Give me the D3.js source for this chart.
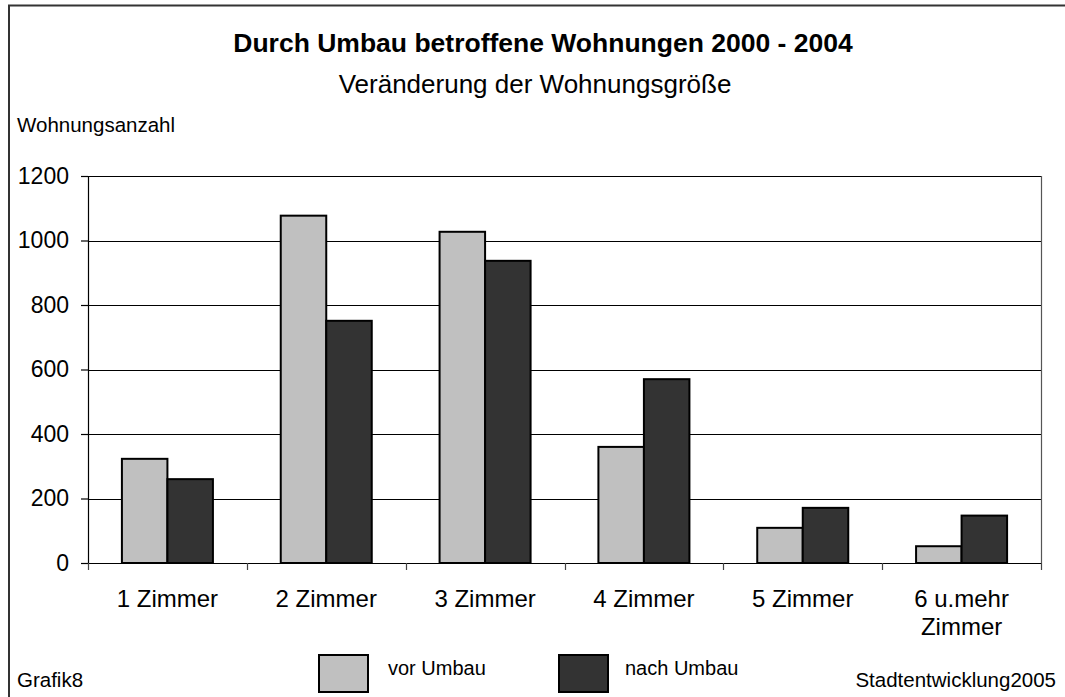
<!DOCTYPE html>
<html>
<head>
<meta charset="utf-8">
<script src="https://cdn.jsdelivr.net/npm/d3@7"></script>
<style>
  body { margin: 0; background: #fff; }
  svg text { font-family: "Liberation Sans", Arial, sans-serif; fill: #000; }
</style>
</head>
<body>
<div id="chart"></div>
<script>
// Data
var categories = ["1 Zimmer", "2 Zimmer", "3 Zimmer", "4 Zimmer", "5 Zimmer", "6 u.mehr\nZimmer"];
var seriesNames = ["vor Umbau", "nach Umbau"];
var vorUmbau = [323, 1077, 1027, 360, 109, 52];
var nachUmbau = [260, 751, 937, 570, 171, 147];
var yTicks = [0, 200, 400, 600, 800, 1000, 1200];
var colors = ["#c0c0c0", "#333333"];

var width = 1065, height = 697;
var margin = {top: 176, right: 24, bottom: 134, left: 88};

var svg = d3.select("#chart").append("svg")
    .attr("width", width)
    .attr("height", height);

// outer frame
svg.append("rect")
    .attr("x", 9).attr("y", 5.5)
    .attr("width", 1080).attr("height", 720)
    .attr("fill", "none")
    .attr("stroke", "#333")
    .attr("stroke-width", 2);

var x = d3.scaleBand()
    .domain(categories)
    .range([margin.left, width - margin.right])
    .padding(0);

var groupW = x.bandwidth() * 0.573;
var xs = d3.scaleBand()
    .domain(seriesNames)
    .range([(x.bandwidth() - groupW) / 2, (x.bandwidth() + groupW) / 2]);

var y = d3.scaleLinear()
    .domain([0, 1200])
    .range([height - margin.bottom, margin.top]);

// gridlines
svg.append("g")
    .selectAll("line")
    .data(yTicks.slice(1))
  .enter().append("line")
    .attr("x1", margin.left).attr("x2", width - margin.right)
    .attr("y1", function(d) { return Math.round(y(d)) + 0.5; })
    .attr("y2", function(d) { return Math.round(y(d)) + 0.5; })
    .attr("stroke", "#000")
    .attr("stroke-width", 1.2);

// right border of plot area
svg.append("line")
    .attr("x1", width - margin.right + 0.5).attr("x2", width - margin.right + 0.5)
    .attr("y1", y(1200)).attr("y2", y(0))
    .attr("stroke", "#555")
    .attr("stroke-width", 1.2);

// bars
var rows = categories.map(function(c, i) {
    return {cat: c, values: [vorUmbau[i], nachUmbau[i]]};
});

var groups = svg.append("g").selectAll("g")
    .data(rows)
  .enter().append("g")
    .attr("transform", function(d) { return "translate(" + x(d.cat) + ",0)"; });

groups.selectAll("rect")
    .data(function(d) { return d.values.map(function(v, j) { return {key: seriesNames[j], value: v, j: j}; }); })
  .enter().append("rect")
    .attr("x", function(d) { return xs(d.key); })
    .attr("width", xs.bandwidth())
    .attr("y", function(d) { return y(d.value); })
    .attr("height", function(d) { return y(0) - y(d.value); })
    .attr("fill", function(d) { return colors[d.j]; })
    .attr("stroke", "#000")
    .attr("stroke-width", 2);

// y axis
var yAxis = svg.append("g")
    .attr("transform", "translate(" + margin.left + ",0)")
    .call(d3.axisLeft(y).tickValues(yTicks).tickFormat(d3.format("d"))
        .tickSize(7).tickPadding(12).tickSizeOuter(0));
yAxis.selectAll("text")
    .style("font-size", "23px")
    .style("font-family", "'Liberation Sans', Arial, sans-serif");
yAxis.select(".domain").attr("stroke", "#000").attr("stroke-width", 1.2);
yAxis.selectAll(".tick line").attr("stroke", "#000").attr("stroke-width", 1.2);

// x axis line + boundary ticks
var xAxis = svg.append("g");
xAxis.append("line")
    .attr("x1", margin.left).attr("x2", width - margin.right)
    .attr("y1", Math.round(y(0)) + 0.5).attr("y2", Math.round(y(0)) + 0.5)
    .attr("stroke", "#000")
    .attr("stroke-width", 1.2);
xAxis.selectAll(".xtick")
    .data(categories.map(function(c) { return x(c); }).concat([x.range()[1]]))
  .enter().append("line")
    .attr("class", "xtick")
    .attr("x1", function(d) { return Math.round(d) + 0.5; })
    .attr("x2", function(d) { return Math.round(d) + 0.5; })
    .attr("y1", y(0)).attr("y2", y(0) + 7)
    .attr("stroke", "#444")
    .attr("stroke-width", 1.2);

// category labels
var labels = xAxis.selectAll(".xlabel")
    .data(categories)
  .enter().append("text")
    .attr("class", "xlabel")
    .attr("x", function(d) { return x(d) + x.bandwidth() / 2; })
    .attr("y", 607)
    .attr("text-anchor", "middle")
    .style("font-size", "24px");
labels.each(function(d) {
    var t = d3.select(this);
    d.split("\n").forEach(function(line, i) {
        t.append("tspan")
            .attr("x", x(d) + x.bandwidth() / 2)
            .attr("dy", i === 0 ? 0 : 28)
            .text(line);
    });
});

// titles
svg.append("text")
    .attr("x", 543).attr("y", 52)
    .attr("text-anchor", "middle")
    .style("font-size", "26.5px")
    .style("font-weight", "bold")
    .text("Durch Umbau betroffene Wohnungen 2000 - 2004");

svg.append("text")
    .attr("x", 535).attr("y", 93)
    .attr("text-anchor", "middle")
    .style("font-size", "26px")
    .text("Veränderung der Wohnungsgröße");

svg.append("text")
    .attr("x", 17).attr("y", 132)
    .style("font-size", "20.5px")
    .text("Wohnungsanzahl");

// legend
var legendX = [319, 559];
var legend = svg.append("g").selectAll("g")
    .data(seriesNames)
  .enter().append("g")
    .attr("transform", function(d, i) { return "translate(" + legendX[i] + ",655)"; });
legend.append("rect")
    .attr("width", 49).attr("height", 37)
    .attr("fill", function(d, i) { return colors[i]; })
    .attr("stroke", "#000")
    .attr("stroke-width", 2);
legend.append("text")
    .attr("x", function(d, i) { return i === 0 ? 69 : 66; })
    .attr("y", 20)
    .style("font-size", "20px")
    .text(function(d) { return d; });

// footer
svg.append("text")
    .attr("x", 17).attr("y", 687)
    .style("font-size", "20.5px")
    .text("Grafik8");
svg.append("text")
    .attr("x", 1056).attr("y", 687)
    .attr("text-anchor", "end")
    .style("font-size", "20.5px")
    .text("Stadtentwicklung2005");
</script>
</body>
</html>
